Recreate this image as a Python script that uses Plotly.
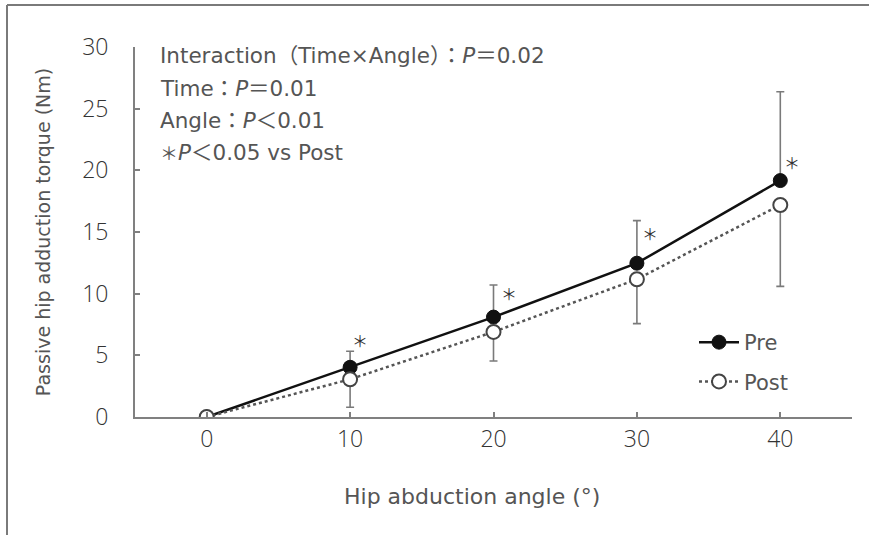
import plotly.graph_objects as go

# ---- data ----
angles = [0, 10, 20, 30, 40]
pre_mean = [0.0, 4.03, 8.1, 12.47, 19.17]
pre_sd_upper = [0.0, 1.3, 2.6, 3.45, 7.2]
post_mean = [0.0, 3.06, 6.9, 11.17, 17.19]
post_sd_lower = [0.0, 2.27, 2.36, 3.6, 6.6]
x_tick_vals = [0, 10, 20, 30, 40]
y_tick_vals = [0, 5, 10, 15, 20, 25, 30]
sig_angles = [10, 20, 30, 40]
stats_lines = [
    "Interaction（Time×Angle）：<i>P</i>＝0.02",
    "Time：<i>P</i>＝0.01",
    "Angle：<i>P</i>＜0.01",
    "<span style='font-family:Noto Sans CJK JP;font-size:18px'>＊</span><i>P</i>＜0.05 vs Post",
]
x_title = "Hip abduction angle (°)"
y_title = "Passive hip adduction torque (Nm)"

W, H = 869, 535
ML, MR, MT, MB = 135, 17, 47, 118
FONT = "DejaVu Sans, Noto Sans CJK JP, sans-serif"
TICKFONT = "Open Sans, sans-serif"
TXT = "#555555"
AX = "#808080"
WT = 400

fig = go.Figure()
fig.add_trace(go.Scatter(
    x=angles, y=pre_mean, name="Pre", mode="lines+markers",
    line=dict(color="#111111", width=2.5),
    marker=dict(size=14, color="#111111", line=dict(color="#111111", width=1)),
    error_y=dict(type="data", symmetric=False, array=pre_sd_upper,
                 arrayminus=[0]*len(angles), color="#7a7a7a", thickness=1.6, width=4),
    legendgroup="a",
))
fig.add_trace(go.Scatter(
    x=angles, y=post_mean, name="Post", mode="lines+markers",
    line=dict(color="#555555", width=2.5, dash="dot"),
    marker=dict(size=14, color="white", line=dict(color="#444444", width=2)),
    error_y=dict(type="data", symmetric=False, array=[0]*len(angles),
                 arrayminus=post_sd_lower, color="#7a7a7a", thickness=1.6, width=4),
    legendgroup="b",
))

# significance asterisks next to Pre points
shifts = {10: (10, 27), 20: (15, 24), 30: (13, 30), 40: (12, 19)}
for a in sig_angles:
    i = angles.index(a)
    dx, dy = shifts[a]
    fig.add_annotation(x=a, y=pre_mean[i], text="＊", showarrow=False,
                       xshift=dx, yshift=dy,
                       font=dict(family="Noto Sans CJK JP", size=16, color="#333333", weight=400))

pw = W - ML - MR
ph = H - MT - MB

# statistics text
for k, line in enumerate(stats_lines):
    ycen = 56 + 32 * k
    fig.add_annotation(xref="paper", yref="paper",
                       x=(158 - ML) / pw, y=(H - MB - ycen) / ph,
                       xanchor="left", yanchor="middle", showarrow=False,
                       text=line, font=dict(family=FONT, size=21.5, color=TXT, weight=WT))

# x-axis title (centred slightly left of the plot centre, as in the source)
fig.add_annotation(xref="paper", yref="paper",
                   x=(472 - ML) / pw, y=(H - MB - 496) / ph,
                   xanchor="center", yanchor="middle", showarrow=False,
                   text=x_title, font=dict(family=FONT, size=22, color=TXT, weight=WT))

# figure border (top and left)
fig.add_shape(type="line", xref="paper", yref="paper",
              x0=(7 - ML) / pw, x1=(W - ML) / pw,
              y0=(H - MB - 5) / ph, y1=(H - MB - 5) / ph,
              line=dict(color="#7a7a7a", width=2))
fig.add_shape(type="line", xref="paper", yref="paper",
              x0=(7 - ML) / pw, x1=(7 - ML) / pw,
              y0=(H - MB - 5) / ph, y1=(H - MB - H) / ph,
              line=dict(color="#7a7a7a", width=2))

fig.update_layout(
    width=W, height=H,
    margin=dict(l=ML, r=MR, t=MT, b=MB, pad=0),
    paper_bgcolor="white", plot_bgcolor="white",
    font=dict(family=FONT, color=TXT, weight=WT),
    showlegend=True,
    legend=dict(x=(694 - ML) / pw, y=(H - MB - 322) / ph,
                xanchor="left", yanchor="top",
                bgcolor="rgba(0,0,0,0)",
                font=dict(family=FONT, size=21, color=TXT, weight=WT),
                tracegroupgap=9, itemwidth=40),
    xaxis=dict(range=[-5, 45], tickvals=x_tick_vals + [45],
               ticktext=[str(v) for v in x_tick_vals] + [""],
               ticks="inside", ticklen=5, tickcolor=AX, tickwidth=1.5,
               showline=True, linecolor=AX, linewidth=2,
               showgrid=False, zeroline=False,
               tickfont=dict(family=TICKFONT, size=23, color="#333333", weight=300)),
    yaxis=dict(range=[0, 30], tickvals=y_tick_vals,
               ticks="inside", ticklen=5, tickcolor=AX, tickwidth=1.5,
               showline=True, linecolor=AX, linewidth=2,
               showgrid=False, zeroline=False, ticklabelstandoff=20,
               tickfont=dict(family=TICKFONT, size=23, color="#333333", weight=300),
               title=dict(text=y_title, standoff=26,
                          font=dict(family=FONT, size=19, color=TXT, weight=WT))),
)

fig.write_html("out.html")
